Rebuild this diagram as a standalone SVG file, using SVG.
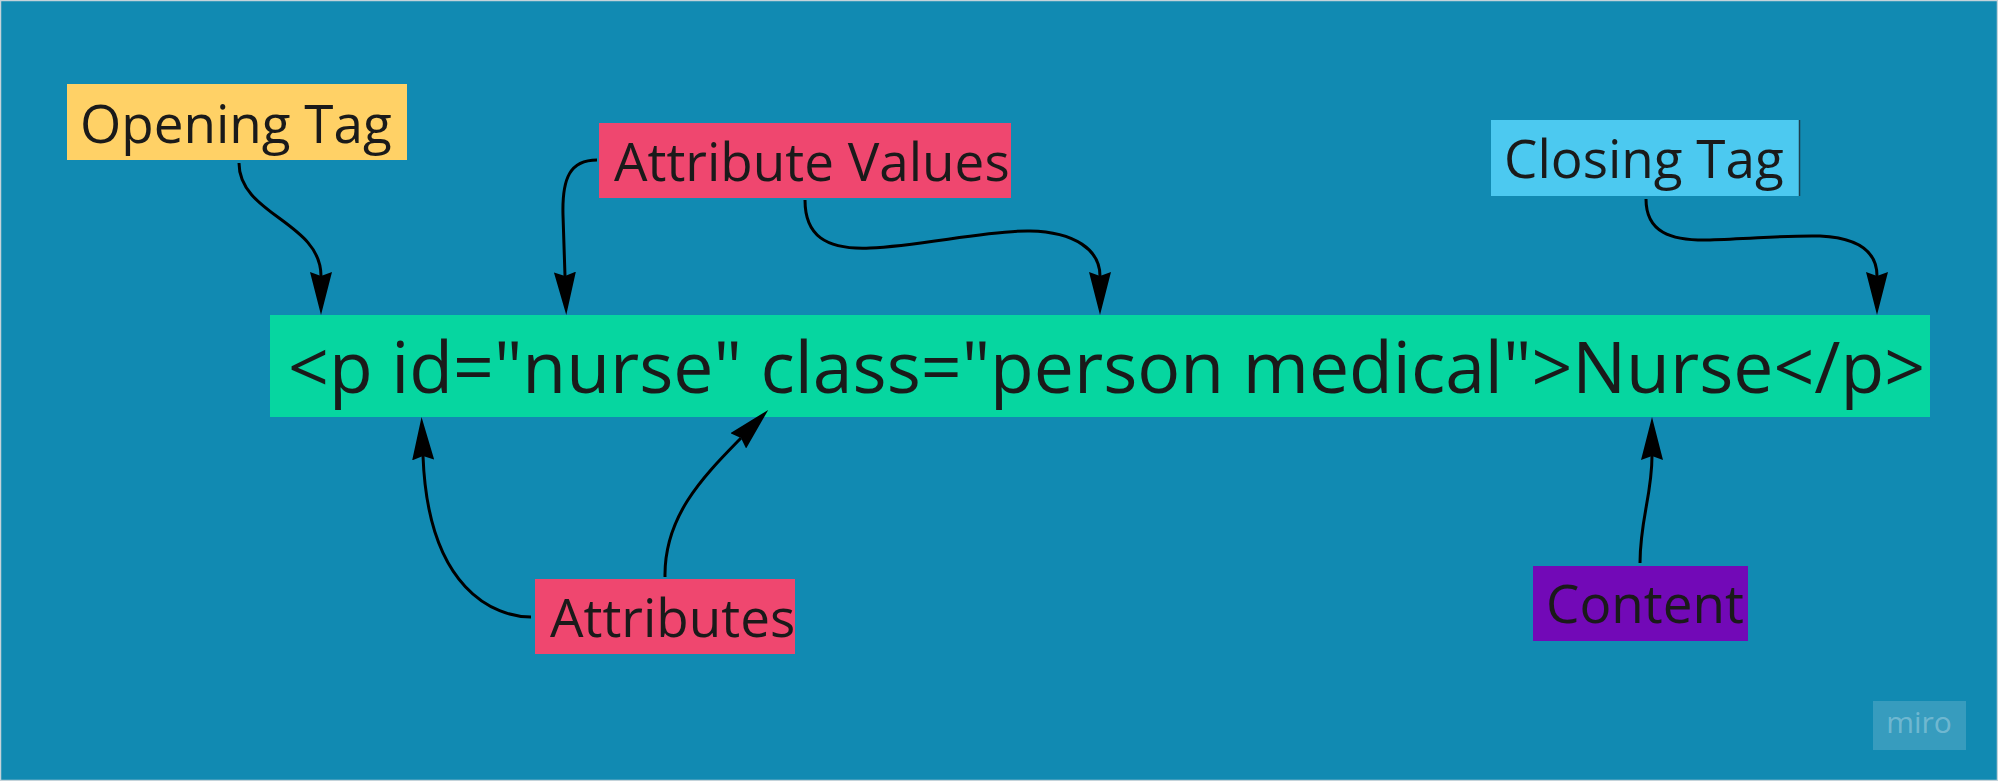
<svg xmlns="http://www.w3.org/2000/svg" width="1998" height="781" viewBox="0 0 1998 781">
  <style>
    .lbl { font-family: "Open Sans", "Noto Sans", "DejaVu Sans", sans-serif; font-size: 53px; fill: #1a1a1a; }
    .code { font-family: "Open Sans", "Noto Sans", "DejaVu Sans", sans-serif; font-size: 71.5px; fill: #1a1a1a; }
    .conn { fill: none; stroke: #000; stroke-width: 3; marker-end: url(#arrow); }
  </style>
  <defs>
    <marker id="arrow" viewBox="0 0 43 22" markerWidth="43" markerHeight="22" markerUnits="userSpaceOnUse" refX="4" refY="11" orient="auto">
      <path d="M0,0 L43,11 L0,22 L4,11 z" fill="#000"/>
    </marker>
  </defs>

  <rect x="0.5" y="0.5" width="1997" height="780" fill="#118AB2" stroke="#c4d3da" stroke-width="1.5"/>

  <g id="main-code">
    <rect x="270" y="315" width="1660" height="102" fill="#06D6A0"/>
    <text class="code" x="288" y="393">&lt;p id="nurse" class="person medical"&gt;Nurse&lt;/p&gt;</text>
  </g>

  <g id="opening-tag">
    <rect x="67" y="84" width="340" height="76" fill="#FFD166"/>
    <text class="lbl" x="80" y="143">Opening Tag</text>
  </g>

  <g id="attribute-values">
    <rect x="599" y="123" width="412" height="75" fill="#EF476F"/>
    <text class="lbl" x="614" y="181">Attribute Values</text>
  </g>

  <g id="closing-tag">
    <rect x="1491" y="120" width="308" height="76" fill="#4CC9F0"/>
    <line x1="1799.5" y1="120" x2="1799.5" y2="196" stroke="#1d3f4f" stroke-width="1.5"/>
    <text class="lbl" x="1504" y="178">Closing Tag</text>
  </g>

  <g id="attributes">
    <rect x="535" y="579" width="260" height="75" fill="#EF476F"/>
    <text class="lbl" x="550" y="637">Attributes</text>
  </g>

  <g id="content">
    <rect x="1533" y="566" width="215" height="75" fill="#7209B7"/>
    <text class="lbl" x="1546" y="623">Content</text>
  </g>

  <g id="connectors">
    <path class="conn" d="M239,163 C239,215 321,222 321,276"/>
    <path class="conn" d="M597,160 C570,160 562,178 563,215 L565,276"/>
    <path class="conn" d="M805,200 C805,235 825,250 870,248 C920,246 990,230 1030,231 C1075,232 1100,250 1100,276"/>
    <path class="conn" d="M1646,199 C1646,232 1670,241 1710,240 C1750,239 1790,235 1820,236 C1860,238 1877,252 1877,276"/>
    <path class="conn" d="M531,617 C495,617 428,590 423,456"/>
    <path class="conn" d="M665,577 C664,515 705,475 741,438"/>
    <path class="conn" d="M1640,563 C1640,520 1652,495 1652,456"/>
  </g>

  <g id="miro-logo">
    <rect x="1873" y="701" width="93" height="49" fill="#ffffff" fill-opacity="0.16"/>
    <text x="1919" y="733" text-anchor="middle" font-family="'Open Sans', 'Noto Sans', sans-serif" font-size="30" fill="#ffffff" fill-opacity="0.3">miro</text>
  </g>
</svg>
